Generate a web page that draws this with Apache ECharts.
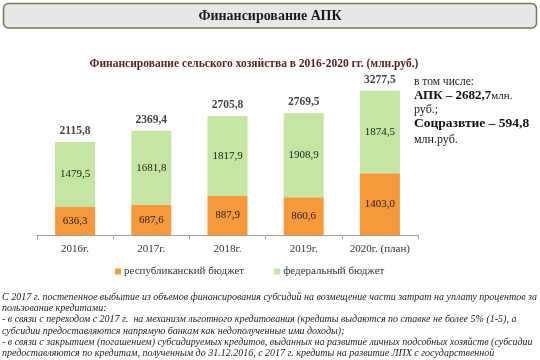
<!DOCTYPE html>
<html>
<head>
<meta charset="utf-8">
<script src="https://cdn.jsdelivr.net/npm/echarts@6/dist/echarts.min.js"></script>
<style>
html,body{margin:0;padding:0;background:#fff;}
#chart{width:540px;height:360px;}
</style>
</head>
<body>
<div id="chart"></div>
<script>
var categories = ['2016г.', '2017г.', '2018г.', '2019г.', '2020г. (план)'];
var republican = [636.3, 687.6, 887.9, 860.6, 1403.0];
var federal = [1479.5, 1681.8, 1817.9, 1908.9, 1874.5];
var totals = [2115.8, 2369.4, 2705.8, 2769.5, 3277.5];
var seriesNames = ['республиканский бюджет', 'федеральный бюджет'];
var noteLines = [
  'С 2017 г. постепенное выбытие из объемов финансирования субсидий на возмещение части затрат на уплату процентов за',
  'пользование кредитами:',
  '- в связи с переходом с 2017 г.  на механизм льготного кредитования (кредиты выдаются по ставке не более 5% (1-5), а',
  'субсидии предоставляются напрямую банкам как недополученные ими доходы);',
  '- в связи с закрытием (погашением) субсидируемых кредитов, выданных на развитие личных подсобных хозяйств (субсидии',
  'предоставляются по кредитам, полученным до 31.12.2016, с 2017 г. кредиты на развитие ЛПХ с государственной'
];

function fmt(v) { return v.toFixed(1).replace('.', ','); }

var serif = '"Liberation Serif", "DejaVu Serif", serif';
var chart = echarts.init(document.getElementById('chart'), null, {renderer: 'canvas'});

var graphics = [
  {type: 'rect', shape: {x: 3.5, y: 3.5, width: 533, height: 24.5, r: 5},
   style: {fill: '#e7e7e7', stroke: '#6f7b52', lineWidth: 1.5}},
  {type: 'text', x: 270, y: 16,
   style: {text: 'Финансирование АПК', font: 'bold 14px ' + serif, fill: '#1a1a1a', align: 'center', verticalAlign: 'middle'}},
  {type: 'text', x: 414, y: 82,
   style: {text: 'в том числе:', font: '11.5px ' + serif, fill: '#1a1a1a', verticalAlign: 'middle'}},
  {type: 'text', x: 414, y: 96,
   style: {text: '{b|АПК – 2682,7}{r|млн.}', verticalAlign: 'middle',
     rich: {b: {font: 'bold 13px ' + serif, fill: '#111'}, r: {font: '11px ' + serif, fill: '#1a1a1a'}}}},
  {type: 'text', x: 414, y: 110,
   style: {text: 'руб.;', font: '12px ' + serif, fill: '#1a1a1a', verticalAlign: 'middle'}},
  {type: 'text', x: 414, y: 124,
   style: {text: 'Соцразвтие – 594,8', font: 'bold 13.5px ' + serif, fill: '#111', verticalAlign: 'middle'}},
  {type: 'text', x: 414, y: 140,
   style: {text: 'млн.руб.', font: '12px ' + serif, fill: '#1a1a1a', verticalAlign: 'middle'}}
];
noteLines.forEach(function (t, i) {
  graphics.push({type: 'text', x: 2, y: 297 + i * 11.3,
    style: {text: t, font: 'italic 10px ' + serif, fill: '#222', verticalAlign: 'middle'}});
});

var option = {
  animation: false,
  backgroundColor: '#fff',
  title: {
    text: 'Финансирование сельского хозяйства в 2016-2020 гг. (млн.руб.)',
    left: 249, top: 53, textAlign: 'center',
    textStyle: {fontFamily: serif, fontWeight: 'bold', fontSize: 11.5, color: '#5a1d1d'}
  },
  legend: {
    data: seriesNames,
    left: 110, top: 261,
    itemWidth: 6, itemHeight: 6, itemGap: 30,
    icon: 'rect',
    textStyle: {fontFamily: serif, fontSize: 11, color: '#333', padding: [0, 0, 0, -2]}
  },
  grid: {left: 37, right: 122, top: 59, bottom: 125, containLabel: false},
  xAxis: {
    type: 'category',
    data: categories,
    axisLine: {lineStyle: {color: '#a0a0a0', width: 1}},
    axisTick: {show: true, length: 4, lineStyle: {color: '#a0a0a0'}},
    axisLabel: {interval: 0, fontFamily: serif, fontSize: 11, color: '#333', margin: 9}
  },
  yAxis: {type: 'value', min: 0, max: 4000, show: false, splitLine: {show: false}},
  graphic: graphics,
  series: [
    {
      name: seriesNames[0], type: 'bar', stack: 'total', data: republican,
      barWidth: 40, itemStyle: {color: '#f8983c'},
      label: {show: true, position: 'inside', fontFamily: serif, fontSize: 11, color: '#222',
        formatter: function (p) { return fmt(p.value); }}
    },
    {
      name: seriesNames[1], type: 'bar', stack: 'total', data: federal,
      barWidth: 40, itemStyle: {color: '#c4e6a2'},
      label: {show: true, position: 'inside', fontFamily: serif, fontSize: 11, color: '#222',
        formatter: function (p) { return fmt(p.value); }}
    },
    {
      name: 'total', type: 'scatter', data: totals, symbolSize: 0, silent: true,
      label: {show: true, position: 'top', distance: 5, fontFamily: serif, fontSize: 11.5,
        fontWeight: 'bold', color: '#111', formatter: function (p) { return fmt(p.value); }}
    }
  ]
};
chart.setOption(option);
</script>
</body>
</html>
